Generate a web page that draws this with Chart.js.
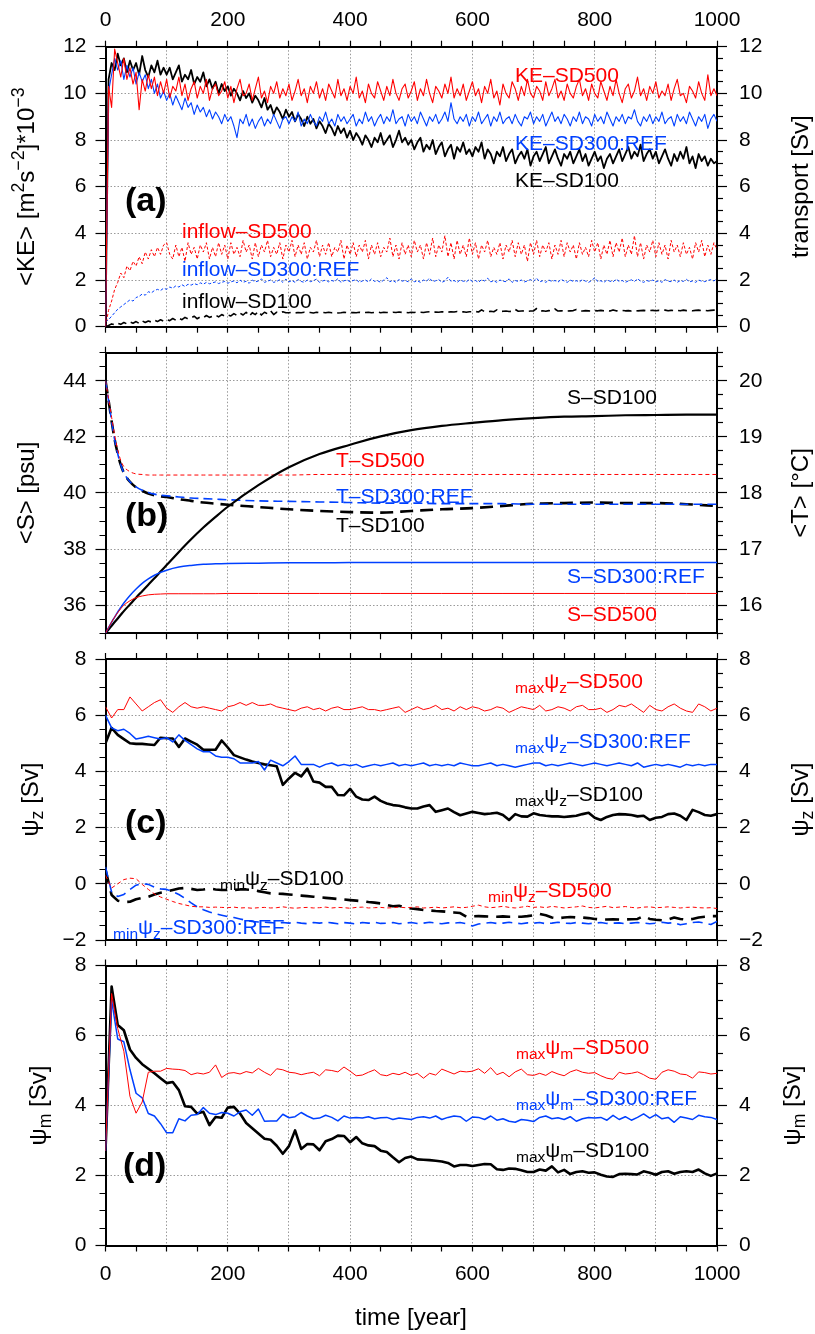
<!DOCTYPE html>
<html><head><meta charset="utf-8">
<script src="https://cdn.jsdelivr.net/npm/chart.js@4.4.1/dist/chart.umd.min.js"></script>
<style>
html,body{margin:0;padding:0;background:#fff;}
#wrap{position:relative;width:815px;height:1334px;overflow:hidden;background:#fff;}
#wrap canvas{position:absolute;left:0;}
</style></head>
<body><div id="wrap">
<canvas id="panelA" width="815" height="367" style="top:0px"></canvas>
<canvas id="panelB" width="815" height="362" style="top:312px"></canvas>
<canvas id="panelC" width="815" height="361" style="top:619px"></canvas>
<canvas id="panelD" width="815" height="409" style="top:925px"></canvas>
</div>
<script>
// ---------------- DATA ----------------
// Panel (a): sampled every 5 years from year 0 to 1000
const KE_STEP = 5;
const KE_SD500 = [
0.0,10.3,9.4,11.9,11.3,10.7,11.5,10.6,11.1,10.4,10.9,9.3,10.6,10.1,10.8,10.2,10.7,9.9,10.5,10.0,
10.6,9.8,10.3,10.1,10.7,9.9,10.4,9.7,10.2,10.5,9.8,10.3,10.0,10.6,9.7,10.2,10.4,9.9,10.1,10.5,
9.8,10.3,9.6,10.2,10.6,9.9,10.0,10.4,9.7,10.2,10.7,9.8,10.1,9.6,10.3,10.0,10.5,9.8,10.2,9.9,
10.4,9.7,10.1,10.6,9.9,10.2,9.6,10.3,10.0,10.5,9.8,10.2,9.7,10.4,10.1,9.8,10.6,9.9,10.2,9.7,
10.3,10.0,10.7,9.8,10.1,9.6,10.4,10.0,9.8,10.5,10.1,9.7,10.3,9.9,10.6,10.0,9.7,10.2,10.4,9.8,
10.1,10.5,9.7,10.2,9.9,10.6,10.0,9.6,10.3,10.1,9.8,10.4,10.0,10.7,9.8,10.2,9.9,10.4,9.7,10.1,
10.5,9.9,10.2,9.6,10.3,10.0,10.6,9.8,10.1,9.5,10.4,10.0,9.8,10.5,10.2,9.7,10.3,9.9,10.6,10.0,
9.8,10.3,10.1,9.7,10.5,9.9,10.2,10.6,9.8,10.1,9.7,10.4,10.0,9.8,10.3,10.6,9.9,10.2,9.7,10.4,
10.0,9.8,10.5,10.1,9.7,10.3,9.9,10.6,10.0,9.6,10.2,10.4,9.8,10.1,10.7,9.9,10.2,9.7,10.3,10.0,
10.5,9.8,10.1,9.9,10.4,9.7,10.2,10.6,9.9,10.0,9.6,10.3,10.1,9.8,10.5,10.0,9.7,10.8,9.9,10.2,
9.9];
const KE_SD300 = [
0.0,10.1,10.8,11.5,11.0,11.4,10.6,11.2,10.7,11.1,10.4,10.9,10.5,10.8,10.2,10.6,10.0,10.4,9.8,10.1,
9.7,10.0,9.5,9.9,9.6,9.3,9.8,9.4,9.6,9.1,9.5,9.2,9.4,9.0,9.3,8.9,9.2,9.0,8.7,9.1,
8.8,9.0,8.6,8.1,8.9,8.7,9.1,8.6,8.9,8.5,8.8,9.0,8.6,8.9,8.7,9.1,8.8,8.5,8.9,9.0,
8.7,9.0,8.8,9.2,8.6,8.9,8.7,9.1,8.8,8.6,9.0,8.8,9.2,8.7,8.9,8.6,9.1,8.8,9.0,8.7,
8.9,9.1,8.6,8.9,8.7,9.2,8.8,9.0,8.6,8.9,9.1,8.7,9.0,8.8,9.3,8.7,8.9,9.0,8.6,9.1,
8.8,9.0,8.7,9.2,8.9,8.6,9.0,8.8,9.1,8.7,8.9,9.2,8.8,9.6,8.9,8.7,9.0,8.8,9.1,8.6,
9.0,8.8,9.2,8.7,8.9,9.1,8.6,9.0,8.8,9.2,8.7,8.9,9.0,8.7,9.1,8.8,8.6,9.0,8.9,9.2,
8.7,9.0,8.8,9.1,8.6,8.9,9.2,8.8,9.0,8.7,9.1,8.9,8.6,9.0,8.8,9.2,8.7,9.0,8.9,8.6,
9.1,8.8,9.0,8.7,9.2,8.9,8.6,9.0,8.8,9.1,8.7,9.0,8.9,9.3,8.8,8.6,9.0,8.8,9.1,8.7,
9.0,8.8,9.2,8.7,8.9,9.0,8.6,9.1,8.8,9.0,8.7,9.2,8.9,8.6,9.0,8.8,9.1,8.5,8.9,9.1,
8.8];
const KE_SD100 = [
0.0,10.6,11.3,11.0,11.7,11.2,11.5,10.9,11.4,11.0,11.3,10.8,11.6,11.0,10.7,11.2,10.9,11.4,10.8,11.1,
10.8,11.1,10.6,10.9,11.2,10.5,10.8,10.6,11.0,10.4,10.7,10.5,10.9,10.3,10.6,10.2,10.5,10.0,10.4,10.1,
10.3,9.9,10.2,10.0,9.7,10.1,9.8,10.0,9.6,9.9,9.7,9.4,9.8,9.3,9.5,9.1,9.4,9.2,8.9,9.3,
9.0,9.2,8.8,9.1,8.9,8.6,9.0,8.7,8.9,8.5,8.8,8.6,8.3,8.7,8.5,8.2,8.6,8.3,8.5,8.1,
8.4,8.0,8.3,8.1,7.8,8.2,8.0,7.7,8.1,7.9,8.3,7.8,8.0,8.2,7.7,8.0,8.4,7.9,8.1,7.8,
8.0,7.6,7.9,8.1,7.5,7.8,7.6,8.0,7.4,7.7,7.9,7.3,7.6,7.8,7.2,7.7,7.5,7.9,7.4,7.6,
7.3,7.7,7.5,7.9,7.2,7.6,7.4,7.0,7.5,7.3,7.7,7.1,7.4,7.6,7.0,7.3,7.5,7.2,7.6,6.9,
7.3,7.5,7.1,7.4,7.7,7.0,7.3,7.6,7.2,6.9,7.4,7.2,7.5,7.0,7.3,7.6,7.1,7.4,6.9,7.2,
7.5,7.1,7.3,6.8,7.2,7.4,7.0,7.3,7.6,7.1,7.4,7.7,7.2,7.5,7.3,7.8,7.1,7.4,7.6,7.2,
7.5,7.0,7.3,7.6,7.2,6.9,7.4,7.1,7.5,7.2,7.7,7.0,7.3,6.8,7.4,7.1,7.3,6.9,7.2,7.0,
7.1];
const INFLOW_SD500 = [
0.0,0.7,1.1,1.6,1.9,2.3,2.1,2.6,2.4,2.8,2.6,3.0,2.7,3.2,2.9,3.3,3.0,3.4,3.1,3.5,
3.6,3.1,2.9,3.5,3.0,3.4,2.8,3.6,3.1,3.4,2.9,3.5,3.2,3.6,2.9,3.4,3.0,3.6,3.1,3.5,
2.9,3.6,3.1,3.4,3.0,3.7,3.2,3.5,2.9,3.6,3.0,3.5,3.2,3.7,3.0,3.4,3.1,3.6,2.9,3.5,
3.2,3.7,3.0,3.5,3.1,3.6,2.9,3.4,3.2,3.7,3.0,3.5,3.1,3.6,3.0,3.4,3.2,3.7,2.9,3.5,
3.1,3.6,3.0,3.5,3.2,3.7,2.9,3.5,3.1,3.6,3.0,3.4,3.2,3.8,3.0,3.5,2.9,3.6,3.1,3.5,
3.0,3.7,3.2,3.5,2.9,3.6,3.1,3.8,3.0,3.5,3.2,3.9,3.0,3.6,2.9,3.7,3.1,3.5,3.0,3.8,
3.1,3.6,2.9,3.5,3.2,3.7,3.0,3.4,3.1,3.6,2.9,3.5,3.2,3.7,3.0,3.6,3.1,3.5,2.8,3.6,
3.1,3.7,3.0,3.5,3.2,3.6,2.9,3.5,3.1,3.7,3.0,3.6,3.2,3.5,2.9,3.6,3.1,3.4,3.0,3.7,
3.2,3.6,2.9,3.5,3.1,3.7,3.0,3.6,3.2,3.8,3.0,3.5,3.1,3.9,3.0,3.6,2.9,3.5,3.2,3.7,
3.0,3.6,3.1,3.5,2.9,3.7,3.2,3.5,3.0,3.6,3.1,3.4,2.9,3.6,3.2,3.7,3.0,3.5,3.1,3.6,
3.3];
const INFLOW_SD300 = [
0.2,0.3,0.45,0.6,0.75,0.85,0.95,1.05,1.15,1.1,1.25,1.3,1.4,1.35,1.5,1.45,1.55,1.6,1.55,1.65,
1.6,1.7,1.65,1.75,1.7,1.8,1.72,1.82,1.78,1.85,1.8,1.88,1.82,1.9,1.84,1.88,1.92,1.85,1.9,1.94,
1.86,1.92,1.96,1.88,2.0,1.9,1.95,1.86,2.0,1.92,1.96,2.05,1.9,1.95,2.0,1.9,1.94,2.02,1.9,2.04,
1.92,1.98,1.9,2.02,1.94,1.9,2.0,1.93,1.97,2.04,1.9,1.96,2.0,1.92,1.98,1.94,2.06,1.9,1.97,2.0,
1.93,1.98,2.02,1.9,1.96,2.0,1.92,2.05,1.94,1.97,1.9,2.0,2.1,1.93,1.98,1.9,2.02,1.95,1.99,1.92,
2.05,1.92,1.97,1.9,2.0,1.95,2.08,1.93,1.97,2.02,1.9,1.96,2.12,1.94,1.98,1.9,2.0,1.95,1.92,2.03,
1.94,1.98,1.9,2.02,1.96,2.08,1.92,1.97,1.9,2.0,1.95,1.93,2.05,1.9,1.98,1.94,2.0,1.92,1.96,2.02,
1.95,2.08,1.92,1.97,1.9,2.0,1.94,1.98,1.91,2.03,1.96,1.9,2.0,1.94,1.97,1.92,2.02,1.95,1.9,1.98,
2.1,1.93,1.97,1.9,2.0,1.95,1.92,2.04,1.94,1.98,1.9,1.96,2.01,1.93,2.06,1.95,1.9,1.98,1.94,2.0,
1.92,1.97,1.9,2.02,1.95,1.93,2.0,1.9,1.98,1.94,2.03,1.92,1.96,1.9,2.0,1.95,1.93,1.98,2.02,1.96,
2.06];
const INFLOW_SD100 = [
0.0,0.05,0.12,0.08,0.15,0.1,0.18,0.12,0.2,0.15,0.22,0.14,0.25,0.18,0.24,0.2,0.28,0.22,0.3,0.24,
0.3,0.26,0.35,0.28,0.36,0.3,0.4,0.33,0.38,0.45,0.34,0.42,0.38,0.48,0.4,0.44,0.5,0.42,0.52,0.45,
0.5,0.46,0.56,0.48,0.58,0.5,0.62,0.45,0.6,0.52,0.66,0.5,0.62,0.55,0.68,0.52,0.62,0.58,0.64,0.6,
0.6,0.62,0.59,0.61,0.6,0.62,0.6,0.61,0.59,0.62,0.6,0.61,0.6,0.62,0.6,0.61,0.59,0.6,0.62,0.6,
0.6,0.61,0.6,0.62,0.6,0.61,0.62,0.6,0.61,0.63,0.6,0.62,0.61,0.6,0.62,0.61,0.63,0.61,0.62,0.6,
0.62,0.61,0.63,0.62,0.61,0.63,0.64,0.62,0.63,0.62,0.64,0.63,0.62,0.64,0.63,0.65,0.63,0.64,0.62,0.64,
0.64,0.65,0.63,0.72,0.64,0.65,0.66,0.64,0.72,0.65,0.66,0.67,0.65,0.66,0.74,0.66,0.67,0.68,0.66,0.67,
0.68,0.78,0.67,0.68,0.66,0.69,0.68,0.76,0.67,0.68,0.69,0.67,0.68,0.69,0.74,0.68,0.67,0.69,0.68,0.67,
0.69,0.68,0.7,0.68,0.69,0.67,0.72,0.68,0.69,0.7,0.68,0.69,0.67,0.7,0.68,0.69,0.7,0.68,0.69,0.7,
0.68,0.7,0.69,0.71,0.68,0.7,0.69,0.7,0.68,0.71,0.69,0.7,0.68,0.7,0.71,0.69,0.7,0.68,0.7,0.71,
0.71];

// Panel (b): salinity (left axis, psu) and temperature (right axis, degC)
const TS_YEARS = [0,5,10,15,20,25,30,40,50,60,70,80,90,100,120,140,160,180,200,250,300,350,400,450,500,550,600,650,700,750,800,850,900,950,1000];
const S_SD100 = [35.0,35.13,35.27,35.4,35.53,35.66,35.79,36.03,36.27,36.5,36.73,36.96,37.2,37.43,37.9,38.35,38.77,39.15,39.51,40.28,40.92,41.39,41.72,42.02,42.24,42.39,42.5,42.6,42.67,42.72,42.74,42.77,42.78,42.79,42.79];
const S_SD300 = [35.0,35.2,35.4,35.58,35.76,35.92,36.08,36.35,36.58,36.78,36.94,37.07,37.17,37.25,37.36,37.42,37.46,37.48,37.49,37.5,37.51,37.51,37.52,37.52,37.52,37.52,37.52,37.52,37.52,37.52,37.52,37.52,37.52,37.52,37.52];
const S_SD500 = [35.0,35.2,35.4,35.58,35.74,35.88,36.0,36.16,36.27,36.33,36.37,36.39,36.4,36.41,36.41,36.41,36.41,36.41,36.42,36.42,36.42,36.42,36.42,36.42,36.42,36.42,36.42,36.42,36.42,36.42,36.42,36.42,36.42,36.42,36.42];
const T_SD500 = [20.0,19.68,19.35,19.03,18.77,18.58,18.47,18.38,18.34,18.33,18.32,18.32,18.32,18.32,18.32,18.32,18.32,18.32,18.32,18.32,18.32,18.33,18.33,18.33,18.33,18.33,18.33,18.33,18.33,18.33,18.33,18.33,18.33,18.33,18.33];
const T_SD300 = [20.0,19.65,19.28,18.95,18.7,18.5,18.36,18.2,18.11,18.05,18.01,17.98,17.96,17.95,17.93,17.91,17.9,17.89,17.88,17.86,17.85,17.84,17.83,17.82,17.82,17.81,17.81,17.81,17.8,17.8,17.8,17.8,17.8,17.8,17.8];
const T_SD100 = [20.0,19.65,19.28,18.95,18.7,18.5,18.36,18.2,18.1,18.04,17.99,17.96,17.94,17.93,17.89,17.86,17.83,17.81,17.79,17.75,17.71,17.68,17.66,17.65,17.68,17.71,17.73,17.77,17.81,17.82,17.83,17.82,17.82,17.8,17.77];

// Panels (c) and (d): sampled every 10 years from year 0 to 1000
const PSI_STEP = 10;
const PSIZ_MAX_SD500 = [
6.3,5.9,6.2,6.2,6.65,6.4,6.15,6.3,6.45,6.55,
6.25,6.1,6.3,6.45,6.3,6.25,6.3,6.25,6.2,6.15,
6.3,6.35,6.45,6.35,6.45,6.35,6.35,6.4,6.3,6.25,
6.2,6.15,6.25,6.3,6.2,6.25,6.15,6.25,6.3,6.2,
6.2,6.25,6.3,6.2,6.2,6.15,6.2,6.25,6.3,6.1,
6.2,6.3,6.2,6.25,6.35,6.2,6.25,6.15,6.3,6.2,
6.3,6.25,6.15,6.2,6.3,6.25,6.1,6.2,6.3,6.25,
6.2,6.35,6.15,6.2,6.3,6.25,6.15,6.3,6.35,6.2,
6.2,6.25,6.1,6.2,6.35,6.3,6.4,6.25,6.1,6.35,
6.2,6.15,6.3,6.4,6.25,6.15,6.1,6.4,6.3,6.15,
6.25];
const PSIZ_MAX_SD300 = [
6.0,5.55,5.45,5.5,5.35,5.15,5.2,5.25,5.2,5.15,
5.2,5.05,5.3,5.1,4.95,4.8,4.7,4.7,4.55,4.5,
4.5,4.45,4.3,4.3,4.3,4.35,4.05,4.4,4.3,4.2,
4.35,4.55,4.25,4.25,4.25,4.15,4.25,4.3,4.2,4.25,
4.2,4.25,4.15,4.2,4.25,4.2,4.25,4.3,4.2,4.25,
4.2,4.25,4.3,4.2,4.25,4.2,4.25,4.2,4.3,4.25,
4.2,4.2,4.25,4.3,4.2,4.25,4.2,4.15,4.2,4.25,
4.3,4.3,4.2,4.25,4.2,4.25,4.3,4.25,4.2,4.25,
4.3,4.25,4.2,4.25,4.3,4.25,4.2,4.3,4.15,4.2,
4.25,4.2,4.25,4.2,4.15,4.25,4.2,4.25,4.2,4.25,
4.25];
const PSIZ_MAX_SD100 = [
5.0,5.55,5.3,5.15,5.0,4.98,4.98,4.96,4.94,5.2,
5.18,5.17,4.87,5.17,5.06,4.95,4.77,4.77,4.77,5.1,
4.85,4.58,4.5,4.42,4.35,4.3,4.25,4.22,4.18,3.52,
3.75,3.95,3.82,4.1,3.64,3.6,3.45,3.45,3.16,3.15,
3.38,3.1,3.0,2.98,3.1,2.95,2.86,2.8,2.78,2.72,
2.68,2.68,2.75,2.8,2.56,2.62,2.68,2.55,2.44,2.5,
2.56,2.52,2.48,2.5,2.53,2.45,2.27,2.48,2.4,2.39,
2.51,2.45,2.42,2.4,2.4,2.38,2.4,2.42,2.48,2.53,
2.35,2.27,2.38,2.45,2.48,2.47,2.45,2.4,2.42,2.27,
2.35,2.38,2.48,2.5,2.42,2.27,2.63,2.55,2.45,2.42,
2.48];
const PSIZ_MIN_SD100 = [
0.5,-0.4,-0.6,-0.65,-0.64,-0.55,-0.5,-0.46,-0.38,-0.32,
-0.28,-0.22,-0.17,-0.15,-0.18,-0.22,-0.2,-0.17,-0.2,-0.22,
-0.22,-0.22,-0.2,-0.2,-0.22,-0.26,-0.3,-0.34,-0.35,-0.36,
-0.38,-0.4,-0.42,-0.44,-0.46,-0.48,-0.5,-0.52,-0.54,-0.56,
-0.58,-0.6,-0.62,-0.65,-0.67,-0.7,-0.75,-0.8,-0.78,-0.85,
-0.88,-0.9,-0.93,-0.95,-0.97,-0.98,-1.0,-1.02,-1.04,-1.17,
-1.16,-1.15,-1.16,-1.17,-1.17,-1.16,-1.17,-1.17,-1.17,-1.15,
-1.12,-1.07,-1.12,-1.2,-1.23,-1.2,-1.18,-1.2,-1.2,-1.22,
-1.25,-1.27,-1.27,-1.26,-1.27,-1.27,-1.26,-1.25,-1.15,-1.25,
-1.28,-1.3,-1.27,-1.2,-1.25,-1.28,-1.25,-1.2,-1.17,-1.15,
-1.15];
const PSIZ_MIN_SD500 = [
0.3,-0.15,0.0,0.15,0.2,0.18,-0.02,-0.2,-0.36,-0.47,
-0.55,-0.63,-0.7,-0.75,-0.8,-0.82,-0.82,-0.84,-0.83,-0.84,
-0.85,-0.83,-0.86,-0.85,-0.87,-0.85,-0.84,-0.86,-0.85,-0.82,
-0.85,-0.87,-0.85,-0.84,-0.86,-0.85,-0.83,-0.86,-0.84,-0.85,
-0.87,-0.84,-0.83,-0.86,-0.85,-0.84,-0.86,-0.85,-0.83,-0.85,
-0.84,-0.82,-0.86,-0.85,-0.83,-0.86,-0.84,-0.82,-0.85,-0.84,
-0.8,-0.76,-0.82,-0.85,-0.83,-0.8,-0.84,-0.86,-0.83,-0.8,
-0.84,-0.82,-0.85,-0.8,-0.83,-0.86,-0.84,-0.82,-0.79,-0.84,
-0.86,-0.83,-0.8,-0.85,-0.83,-0.81,-0.84,-0.86,-0.83,-0.82,
-0.85,-0.84,-0.82,-0.84,-0.86,-0.84,-0.83,-0.85,-0.86,-0.85,
-0.88];
const PSIZ_MIN_SD300 = [
0.6,-0.3,-0.45,-0.38,-0.2,-0.05,0.0,-0.02,-0.12,-0.18,
-0.2,-0.28,-0.38,-0.52,-0.68,-0.82,-0.92,-1.0,-1.07,-1.12,
-1.17,-1.2,-1.25,-1.3,-1.34,-1.36,-1.37,-1.38,-1.4,-1.38,
-1.4,-1.37,-1.4,-1.42,-1.38,-1.4,-1.37,-1.39,-1.42,-1.38,
-1.4,-1.43,-1.38,-1.4,-1.37,-1.41,-1.4,-1.38,-1.42,-1.4,
-1.38,-1.41,-1.4,-1.37,-1.4,-1.42,-1.39,-1.4,-1.38,-1.42,
-1.5,-1.43,-1.4,-1.38,-1.41,-1.4,-1.37,-1.4,-1.42,-1.39,
-1.4,-1.38,-1.42,-1.4,-1.37,-1.4,-1.41,-1.38,-1.4,-1.42,
-1.4,-1.38,-1.41,-1.4,-1.39,-1.42,-1.4,-1.38,-1.4,-1.42,
-1.4,-1.37,-1.4,-1.38,-1.46,-1.42,-1.38,-1.36,-1.4,-1.45,
-1.34];
const PSIM_MAX_SD500 = [
2.7,7.2,6.2,5.55,4.26,3.78,4.1,4.95,4.98,4.98,
5.06,5.04,5.03,5.0,4.88,4.93,4.9,4.95,5.16,4.8,
4.92,4.94,4.9,4.97,4.93,5.06,4.95,4.86,5.05,5.02,
4.95,4.93,4.88,4.92,4.95,4.85,5.02,5.0,4.96,5.1,
4.98,4.85,4.87,4.95,5.02,4.88,4.85,4.92,4.88,4.95,
4.86,4.92,4.78,4.92,4.87,5.04,4.97,4.9,4.98,4.96,
4.98,5.05,4.92,5.08,4.88,4.95,4.82,4.96,5.04,4.88,
4.86,4.92,4.86,4.97,4.9,4.85,4.96,5.02,4.95,4.92,
4.94,4.85,4.78,4.75,4.95,4.9,4.92,4.96,4.88,4.78,
4.75,4.95,5.02,4.98,4.9,4.88,4.78,4.96,4.94,4.9,
4.92];
const PSIM_MAX_SD300 = [
2.7,7.0,5.9,5.82,5.02,4.35,4.22,3.77,3.7,3.48,
3.22,3.22,3.62,3.56,3.72,3.74,3.94,3.78,3.74,3.8,
3.78,3.7,3.82,3.87,3.72,3.9,3.55,3.56,3.56,3.75,
3.65,3.68,3.8,3.7,3.62,3.64,3.72,3.66,3.56,3.7,
3.64,3.66,3.64,3.68,3.62,3.65,3.66,3.6,3.64,3.62,
3.6,3.66,3.68,3.64,3.7,3.6,3.66,3.7,3.68,3.55,
3.67,3.66,3.6,3.7,3.58,3.62,3.55,3.52,3.6,3.58,
3.54,3.66,3.7,3.62,3.65,3.6,3.68,3.55,3.62,3.66,
3.64,3.66,3.58,3.72,3.6,3.68,3.58,3.66,3.76,3.64,
3.74,3.62,3.66,3.52,3.68,3.64,3.6,3.72,3.68,3.66,
3.6];
const PSIM_MAX_SD100 = [
2.7,7.4,6.3,6.15,5.6,5.36,5.18,5.05,4.92,4.78,
4.64,4.67,4.44,3.98,3.96,3.77,3.82,3.44,3.67,3.65,
3.94,3.96,3.77,3.5,3.35,3.2,3.05,3.02,2.85,2.62,
2.84,3.29,2.76,2.9,2.89,2.72,2.98,3.04,3.14,3.13,
2.95,3.1,2.92,2.86,2.84,2.71,2.67,2.52,2.38,2.5,
2.54,2.46,2.45,2.44,2.42,2.4,2.36,2.26,2.3,2.3,
2.27,2.3,2.33,2.32,2.18,2.16,2.2,2.19,2.15,2.1,
2.1,2.17,2.14,2.26,2.09,2.16,2.04,2.1,2.12,2.08,
2.09,2.02,1.97,1.96,2.04,2.05,2.04,2.03,2.12,2.08,
2.02,2.1,2.12,2.05,2.1,2.12,2.1,2.17,2.06,1.99,
2.06];

// ---------------- STYLE / LAYOUT ----------------
const FONT = '"Liberation Sans", Arial, Helvetica, sans-serif';
Chart.defaults.font.family = FONT;
Chart.defaults.font.size = 21;
Chart.defaults.color = '#000';
const RED = '#ff0000', BLUE = '#0040ff', BLACK = '#000000', GRID = '#9a9a9a';
const PLOT_LEFT = 105.5, PLOT_RIGHT = 717, PAGE_W = 815;

function isMult(v, m) { return Math.abs(v / m - Math.round(v / m)) < 1e-6; }
function fmtNum(v) { const r = Math.round(v); return r < 0 ? '\u2212' + Math.abs(r) : String(r); }
const regular = (step, vals) => vals.map((v, i) => ({ x: i * step, y: v }));
const paired = (xs, vals) => vals.map((v, i) => ({ x: xs[i], y: v }));

function line(data, color, width, dash, axis, smooth) {
  return { data, borderColor: color, borderWidth: width, borderDash: dash || [],
    pointRadius: 0, fill: false, tension: 0, yAxisID: axis || 'y', xAxisID: 'x',
    cubicInterpolationMode: smooth ? 'monotone' : 'default', borderJoinStyle: 'round' };
}

function xAxis(position, size, showLabels) {
  return {
    type: 'linear', position, min: 0, max: 1000,
    afterFit: s => { s.height = size; },
    ticks: { display: showLabels, stepSize: 50, autoSkip: false, maxRotation: 0, minRotation: 0,
      maxTicksLimit: 200, padding: position === 'top' ? 8 : 10,
      callback: v => isMult(v, 200) ? String(Math.round(v)) : '' },
    grid: { drawOnChartArea: position === 'bottom', drawTicks: true, tickLength: 6, tickWidth: 1.2,
      tickColor: '#000', lineWidth: 1,
      color: c => (c.tick && isMult(c.tick.value, 100) && c.tick.value > 1 && c.tick.value < 999) ? GRID : 'rgba(0,0,0,0)' },
    border: { display: true, color: '#000', width: 2, dash: [1.5, 2] }
  };
}
function yAxis(position, size, ax, inside) {
  const major = v => isMult(v, ax.major);
  return {
    type: 'linear', position, min: ax.min, max: ax.max,
    afterFit: s => { s.width = size; },
    ticks: { stepSize: ax.step, autoSkip: false, maxTicksLimit: 200, padding: position === 'left' ? 9 : 12,
      callback: v => major(v) ? fmtNum(v) : '' },
    grid: { drawOnChartArea: inside, drawTicks: true, tickLength: 10, tickWidth: 1.2, tickColor: '#000', lineWidth: 1,
      color: c => (c.tick && major(c.tick.value) && c.tick.value > ax.min + 1e-6 && c.tick.value < ax.max - 1e-6) ? GRID : 'rgba(0,0,0,0)',
      tickBorderDash: c => (c.tick && major(c.tick.value)) ? [] : (position === 'left' ? [0, 4, 6, 100] : [5, 100]) },
    border: { display: true, color: '#000', width: 2, dash: [1.5, 2] }
  };
}

function drawRich(ctx, it, off) {
  const size = it.size || 21;
  const segs = it.parts.map(p => {
    const kind = p[1] || 'n';
    const s = kind === 'n' ? size : size * 0.74;
    const dy = kind === 'sub' ? size * 0.22 : (kind === 'sup' ? -size * 0.42 : 0);
    return { t: p[0], s, dy };
  });
  ctx.save();
  ctx.fillStyle = it.color || '#000';
  ctx.textBaseline = 'alphabetic';
  ctx.textAlign = 'left';
  let w = 0;
  segs.forEach(sg => { ctx.font = (it.bold ? 'bold ' : '') + sg.s + 'px ' + FONT; sg.w = ctx.measureText(sg.t).width; w += sg.w; });
  ctx.translate(it.x, it.y - off);
  if (it.rotate) ctx.rotate(-Math.PI / 2);
  let cx = it.align === 'center' ? -w / 2 : 0;
  segs.forEach(sg => { ctx.font = (it.bold ? 'bold ' : '') + sg.s + 'px ' + FONT; ctx.fillText(sg.t, cx, sg.dy); cx += sg.w; });
  ctx.restore();
}
const richText = {
  id: 'richText',
  afterDraw(chart, args, opts) {
    (opts.items || []).forEach(it => drawRich(chart.ctx, it, opts.offsetTop || 0));
  }
};

const psiZ = [['ψ'], ['z', 'sub'], [' [Sv]']];
const psiM = [['ψ'], ['m', 'sub'], [' [Sv]']];

const PANELS = [
  { id: 'panelA', canvasTop: 0, canvasH: 367, areaTop: 46.7, areaBottom: 326.7, topLabels: true, bottomLabels: false,
    y: { min: 0, max: 12, step: 0.5, major: 2 }, y2: { min: 0, max: 12, step: 0.5, major: 2 },
    datasets: [
      line(regular(KE_STEP, KE_SD500), RED, 1.1),
      line(regular(KE_STEP, KE_SD300), BLUE, 1.1),
      line(regular(KE_STEP, KE_SD100), BLACK, 1.8),
      line(regular(KE_STEP, INFLOW_SD500), RED, 1, [3, 2]),
      line(regular(KE_STEP, INFLOW_SD300), BLUE, 1, [3, 2]),
      line(regular(KE_STEP, INFLOW_SD100), BLACK, 1.6, [9, 5])
    ],
    texts: [
      { x: 515, y: 82, color: RED, parts: [['KE–SD500']] },
      { x: 515, y: 150, color: BLUE, parts: [['KE–SD300:REF']] },
      { x: 515, y: 187, color: BLACK, parts: [['KE–SD100']] },
      { x: 182, y: 238, color: RED, parts: [['inflow–SD500']] },
      { x: 182, y: 276, color: BLUE, parts: [['inflow–SD300:REF']] },
      { x: 182, y: 308, color: BLACK, parts: [['inflow–SD100']] },
      { x: 125, y: 211, size: 34, bold: true, parts: [['(a)']] },
      { x: 34, y: 186.7, size: 24, rotate: true, align: 'center', parts: [['<KE> [m'], ['2', 'sup'], ['s'], ['−2', 'sup'], [']*10'], ['−3', 'sup']] },
      { x: 808, y: 186.7, size: 24, rotate: true, align: 'center', parts: [['transport [Sv]']] }
    ] },
  { id: 'panelB', canvasTop: 312, canvasH: 362, areaTop: 352.7, areaBottom: 633.3, topLabels: false, bottomLabels: false,
    y: { min: 35, max: 45, step: 0.5, major: 2 }, y2: { min: 15.5, max: 20.5, step: 0.25, major: 1 },
    datasets: [
      line(paired(TS_YEARS, S_SD500), RED, 1, null, 'y', true),
      line(paired(TS_YEARS, S_SD300), BLUE, 1.5, null, 'y', true),
      line(paired(TS_YEARS, S_SD100), BLACK, 2.2, null, 'y', true),
      line(paired(TS_YEARS, T_SD500), RED, 1, [4, 3], 'y2', true),
      line(paired(TS_YEARS, T_SD300), BLUE, 1.6, [9, 5], 'y2', true),
      line(paired(TS_YEARS, T_SD100), BLACK, 2.6, [13, 7], 'y2', true)
    ],
    texts: [
      { x: 567, y: 404, color: BLACK, parts: [['S–SD100']] },
      { x: 336, y: 467, color: RED, parts: [['T–SD500']] },
      { x: 336, y: 503, color: BLUE, parts: [['T–SD300:REF']] },
      { x: 336, y: 532, color: BLACK, parts: [['T–SD100']] },
      { x: 567, y: 583, color: BLUE, parts: [['S–SD300:REF']] },
      { x: 567, y: 621, color: RED, parts: [['S–SD500']] },
      { x: 125, y: 526, size: 34, bold: true, parts: [['(b)']] },
      { x: 34, y: 493, size: 24, rotate: true, align: 'center', parts: [['<S> [psu]']] },
      { x: 808, y: 493, size: 24, rotate: true, align: 'center', parts: [['<T> [°C]']] }
    ] },
  { id: 'panelC', canvasTop: 619, canvasH: 361, areaTop: 659, areaBottom: 940, topLabels: false, bottomLabels: false,
    y: { min: -2, max: 8, step: 0.5, major: 2 }, y2: { min: -2, max: 8, step: 0.5, major: 2 },
    datasets: [
      line(regular(PSI_STEP, PSIZ_MAX_SD500), RED, 1),
      line(regular(PSI_STEP, PSIZ_MAX_SD300), BLUE, 1.5),
      line(regular(PSI_STEP, PSIZ_MAX_SD100), BLACK, 2.6),
      line(regular(PSI_STEP, PSIZ_MIN_SD500), RED, 1, [4, 3]),
      line(regular(PSI_STEP, PSIZ_MIN_SD300), BLUE, 1.6, [10, 6]),
      line(regular(PSI_STEP, PSIZ_MIN_SD100), BLACK, 2.6, [14, 8])
    ],
    texts: [
      { x: 515, y: 688, color: RED, parts: [['max', 'sub'], ['ψ'], ['z', 'sub'], ['–SD500']] },
      { x: 515, y: 748, color: BLUE, parts: [['max', 'sub'], ['ψ'], ['z', 'sub'], ['–SD300:REF']] },
      { x: 515, y: 801, color: BLACK, parts: [['max', 'sub'], ['ψ'], ['z', 'sub'], ['–SD100']] },
      { x: 220, y: 885, color: BLACK, parts: [['min', 'sub'], ['ψ'], ['z', 'sub'], ['–SD100']] },
      { x: 488, y: 897, color: RED, parts: [['min', 'sub'], ['ψ'], ['z', 'sub'], ['–SD500']] },
      { x: 113, y: 934, color: BLUE, parts: [['min', 'sub'], ['ψ'], ['z', 'sub'], ['–SD300:REF']] },
      { x: 125, y: 833, size: 34, bold: true, parts: [['(c)']] },
      { x: 38, y: 799.5, size: 24, rotate: true, align: 'center', parts: psiZ },
      { x: 808, y: 799.5, size: 24, rotate: true, align: 'center', parts: psiZ }
    ] },
  { id: 'panelD', canvasTop: 925, canvasH: 409, areaTop: 965.5, areaBottom: 1245.5, topLabels: false, bottomLabels: true,
    y: { min: 0, max: 8, step: 0.5, major: 2 }, y2: { min: 0, max: 8, step: 0.5, major: 2 },
    datasets: [
      line(regular(PSI_STEP, PSIM_MAX_SD500), RED, 1),
      line(regular(PSI_STEP, PSIM_MAX_SD300), BLUE, 1.5),
      line(regular(PSI_STEP, PSIM_MAX_SD100), BLACK, 2.6)
    ],
    texts: [
      { x: 516, y: 1054, color: RED, parts: [['max', 'sub'], ['ψ'], ['m', 'sub'], ['–SD500']] },
      { x: 516, y: 1105, color: BLUE, parts: [['max', 'sub'], ['ψ'], ['m', 'sub'], ['–SD300:REF']] },
      { x: 516, y: 1157, color: BLACK, parts: [['max', 'sub'], ['ψ'], ['m', 'sub'], ['–SD100']] },
      { x: 123, y: 1176, size: 34, bold: true, parts: [['(d)']] },
      { x: 46, y: 1105.5, size: 24, rotate: true, align: 'center', parts: psiM },
      { x: 800, y: 1105.5, size: 24, rotate: true, align: 'center', parts: psiM },
      { x: 411, y: 1325, size: 24, align: 'center', parts: [['time [year]']] }
    ] }
];

PANELS.forEach(p => {
  const padTop = p.areaTop - p.canvasTop;
  const padBottom = p.canvasTop + p.canvasH - p.areaBottom;
  new Chart(document.getElementById(p.id), {
    type: 'line',
    data: { datasets: p.datasets },
    options: {
      responsive: false, animation: false, events: [],
      layout: { padding: 0 },
      plugins: { legend: { display: false }, tooltip: { enabled: false },
        richText: { offsetTop: p.canvasTop, items: p.texts } },
      scales: {
        x: xAxis('bottom', padBottom, p.bottomLabels),
        x2: xAxis('top', padTop, p.topLabels),
        y: yAxis('left', PLOT_LEFT, p.y, true),
        y2: yAxis('right', PAGE_W - PLOT_RIGHT, p.y2, false)
      }
    },
    plugins: [richText]
  });
});
</script>
</body></html>
